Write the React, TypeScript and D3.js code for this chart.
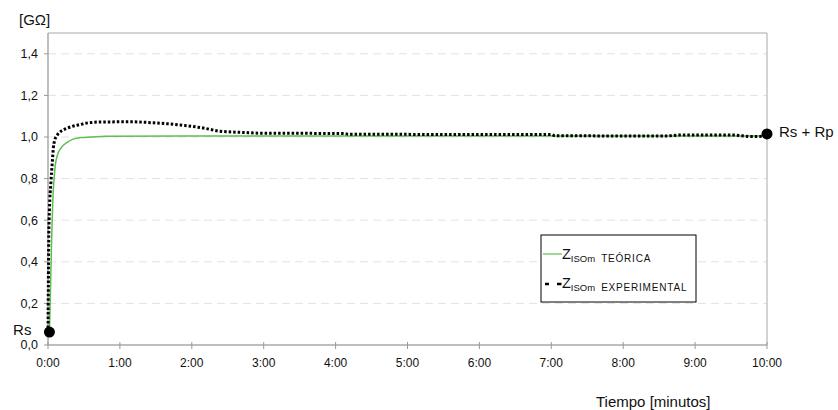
import React from "react";
import * as d3 from "d3";

// tiempo en minutos, impedancia en GΩ
const teoricaT = [0.02, 0.03, 0.04, 0.05, 0.06, 0.07, 0.085, 0.1, 0.12, 0.15, 0.2, 0.27, 0.35, 0.45, 0.6, 0.8, 2, 4, 6, 8, 10];
const teoricaZ = [0.06, 0.2, 0.35, 0.5, 0.62, 0.72, 0.8, 0.86, 0.9, 0.93, 0.955, 0.975, 0.99, 0.997, 1.0, 1.004, 1.005, 1.005, 1.005, 1.005, 1.005];

const expT = [0.0, 0.005, 0.01, 0.02, 0.04, 0.06, 0.075, 0.09, 0.13, 0.17, 0.25, 0.31, 0.45, 0.52, 0.72, 1.14, 1.52, 1.84, 2.16, 2.39, 2.71, 3.0, 4.1, 4.2, 7.0, 7.05, 8.6, 8.8, 9.5, 9.8, 10.0];
const expZ = [0.06, 0.3, 0.5, 0.65, 0.78, 0.88, 0.95, 0.98, 1.01, 1.025, 1.04, 1.048, 1.06, 1.066, 1.072, 1.073, 1.067, 1.058, 1.043, 1.028, 1.022, 1.018, 1.017, 1.013, 1.012, 1.006, 1.005, 1.01, 1.01, 1.002, 1.005];

const yTicks = [0, 0.2, 0.4, 0.6, 0.8, 1.0, 1.2, 1.4];
const xTicks = [0, 1, 2, 3, 4, 5, 6, 7, 8, 9, 10];

const puntos = [
  { label: "Rs", t: 0.02, z: 0.062 },
  { label: "Rs + Rp", t: 10, z: 1.015 },
];

const W = 838;
const H = 410;
const m = { left: 48, right: 767, top: 33, bottom: 345 };
const font = "'Liberation Sans', Arial, sans-serif";

export default function App() {
  const x = d3.scaleLinear().domain([0, 10]).range([m.left, m.right]);
  const y = d3.scaleLinear().domain([0, 1.5]).range([m.bottom, m.top]);

  const line = d3
    .line<[number, number]>()
    .x((d) => x(d[0]))
    .y((d) => y(d[1]))
    .curve(d3.curveMonotoneX);

  const teorica = teoricaT.map((t, i) => [t, teoricaZ[i]] as [number, number]);
  const experimental = expT.map((t, i) => [t, expZ[i]] as [number, number]);

  const fmtY = (v: number) => v.toFixed(1).replace(".", ",");
  const fmtX = (v: number) => `${v}:00`;

  return (
    <svg
      width={W}
      height={H}
      style={{ position: "absolute", left: 0, top: 0, background: "#fff" }}
      fontFamily={font}
    >
      {/* rejilla */}
      {yTicks.slice(1).map((v) => (
        <line
          key={"g" + v}
          x1={m.left}
          x2={m.right}
          y1={y(v)}
          y2={y(v)}
          stroke="#e2e2e2"
          strokeDasharray="8,5"
        />
      ))}

      {/* marco */}
      <line x1={m.left} x2={m.right} y1={m.top} y2={m.top} stroke="#a8a8a8" />
      <line x1={m.right} x2={m.right} y1={m.top} y2={m.bottom} stroke="#a8a8a8" />
      <line x1={m.left} x2={m.left} y1={m.top} y2={m.bottom} stroke="#a8a8a8" strokeWidth={1.5} />
      <line x1={m.left} x2={m.right} y1={m.bottom} y2={m.bottom} stroke="#a8a8a8" strokeWidth={1.5} />

      {/* eje y */}
      {yTicks.map((v) => (
        <g key={"y" + v}>
          <line x1={m.left - 4} x2={m.left} y1={y(v)} y2={y(v)} stroke="#999" />
          <text x={38} y={y(v)} dy="0.35em" textAnchor="end" fontSize={12.5} fill="#111">
            {fmtY(v)}
          </text>
        </g>
      ))}

      {/* eje x */}
      {xTicks.map((v) => (
        <g key={"x" + v}>
          <line x1={x(v)} x2={x(v)} y1={m.bottom - 3} y2={m.bottom + 4} stroke="#999" />
          <text x={x(v)} y={m.bottom + 18} dy="0.35em" textAnchor="middle" fontSize={12} fill="#111">
            {fmtX(v)}
          </text>
        </g>
      ))}

      <text x={19} y={25} fontSize={15} fill="#111">
        [GΩ]
      </text>
      <text x={596} y={407} fontSize={15} fill="#111">
        Tiempo [minutos]
      </text>

      {/* series */}
      <path d={line(teorica) ?? ""} fill="none" stroke="#5cbf4f" strokeWidth={1.5} />
      <path
        d={line(experimental) ?? ""}
        fill="none"
        stroke="#000"
        strokeWidth={3}
        strokeDasharray="2.5,2"
      />

      {/* puntos Rs y Rs + Rp */}
      {puntos.map((p, i) => (
        <g key={p.label}>
          <circle cx={x(p.t)} cy={y(p.z)} r={5.5} fill="#000" />
          <text
            x={i === 0 ? x(p.t) - 18 : x(p.t) + 12}
            y={y(p.z) - 2}
            dy="0.35em"
            textAnchor={i === 0 ? "end" : "start"}
            fontSize={15}
            fill="#111"
          >
            {p.label}
          </text>
        </g>
      ))}

      {/* leyenda */}
      <rect x={541} y={235} width={155} height={67} fill="#fff" stroke="#000" />
      <line x1={543} x2={562} y1={254} y2={254} stroke="#5cbf4f" strokeWidth={1.2} />
      <text x={562} y={259} fontSize={14.5} fill="#111">
        Z
        <tspan fontSize={9.5} dy={2.5}>ISOm</tspan>
        <tspan fontSize={10} dx={6} letterSpacing={0.8}>TEÓRICA</tspan>
      </text>
      <line x1={545} x2={549} y1={284} y2={284} stroke="#000" strokeWidth={2.5} />
      <line x1={557} x2={561.5} y1={284} y2={284} stroke="#000" strokeWidth={2.5} />
      <text x={562} y={288} fontSize={14.5} fill="#111">
        Z
        <tspan fontSize={9.5} dy={2.5}>ISOm</tspan>
        <tspan fontSize={10} dx={6} letterSpacing={0.8}>EXPERIMENTAL</tspan>
      </text>
    </svg>
  );
}
